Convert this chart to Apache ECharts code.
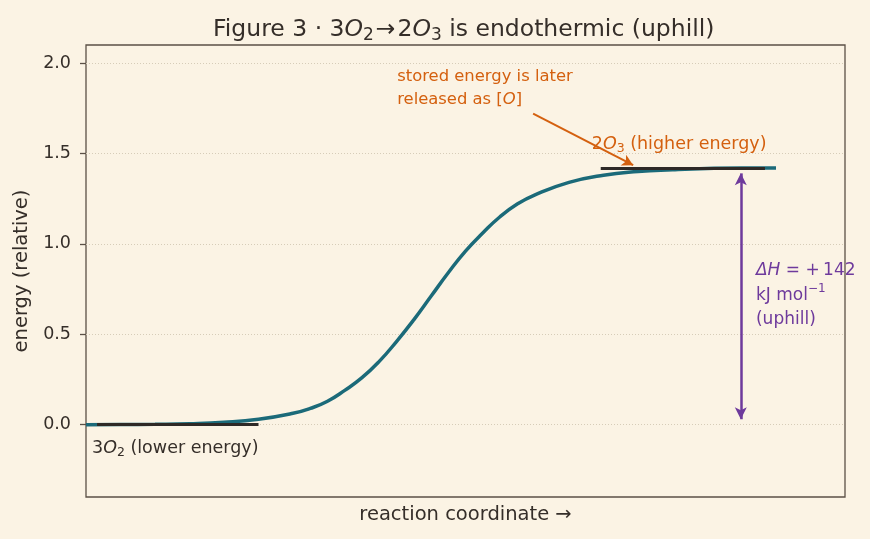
<!DOCTYPE html>
<html>
<head>
<meta charset="utf-8">
<script src="https://cdn.jsdelivr.net/npm/echarts@6/dist/echarts.min.js"></script>
<style>
  html, body { margin: 0; padding: 0; background: #fbf3e4; }
  #chart { width: 870px; height: 539px; }
</style>
</head>
<body>
<div id="chart"></div>
<script>
// reaction coordinate (arbitrary units) and relative energy along the path
const coord = [0, 0.5, 1, 1.5, 2, 2.5, 3, 3.25, 3.5, 3.75, 4, 4.25, 4.5, 4.75, 5, 5.25, 5.5, 5.75, 6, 6.25, 6.5, 7, 7.5, 8, 8.5, 9, 9.5, 10];
const energy = [0.000, 0.001, 0.002, 0.005, 0.013, 0.030, 0.063, 0.09, 0.13, 0.19, 0.26, 0.35, 0.46, 0.58, 0.71, 0.84, 0.96, 1.06, 1.15, 1.22, 1.27, 1.34, 1.38, 1.40, 1.41, 1.417, 1.42, 1.42];
const yTicks = [0, 0.5, 1.0, 1.5, 2.0];

// energy levels: [start, end, energy]
const lowLevel = [0.16, 2.5, 0];
const highLevel = [7.46, 9.84, 1.42];
const deltaH = [9.49, 0.03, 1.39];          // x, bottom, top of the ΔH arrow
const noteArrow = [[6.48, 1.72], [7.93, 1.435]];

const font = "'DejaVu Sans', sans-serif";
const ink = '#352e29';
const orange = '#d4600f';
const purple = '#6e3a9c';

let myChart = echarts.init(document.querySelector('#chart'));

const sub = function (size, color) {
  return { fontSize: size, fontFamily: font, color: color, verticalAlign: 'bottom' };
};

myChart.setOption({
  backgroundColor: '#fbf3e4',
  animation: false,
  title: {
    left: 208,
    top: 10,
    text: 'Figure 3 · 3{i|O}{s|2}{a|→}2{i|O}{s|3} is endothermic (uphill)',
    textStyle: {
      fontFamily: font, fontSize: 23.5, fontWeight: 'normal', color: ink, lineHeight: 29,
      rich: {
        i: { fontFamily: font, fontSize: 23.5, fontStyle: 'italic', color: ink, lineHeight: 29 },
        s: { fontFamily: font, fontSize: 17, color: ink, verticalAlign: 'bottom', lineHeight: 26 },
        a: { fontFamily: font, fontSize: 23.5, color: ink, padding: [0, 2, 0, 2], lineHeight: 29 }
      }
    }
  },
  grid: {
    left: 86, right: 25, top: 45, bottom: 42,
    show: true, borderColor: '#5b5046', borderWidth: 1.3, backgroundColor: 'transparent'
  },
  xAxis: {
    type: 'value', min: 0, max: 11,
    name: 'reaction coordinate →', nameLocation: 'middle', nameGap: 8,
    nameTextStyle: { fontFamily: font, fontSize: 19.5, color: ink },
    axisLine: { show: false }, axisTick: { show: false }, axisLabel: { show: false },
    splitLine: { show: false }
  },
  yAxis: {
    type: 'value', min: -0.4, max: 2.1,
    name: 'energy (relative)', nameLocation: 'middle', nameGap: 54,
    nameTextStyle: { fontFamily: font, fontSize: 19.5, color: ink },
    axisLine: { show: false },
    axisTick: { show: true, length: 6, customValues: yTicks, lineStyle: { color: '#5b5046', width: 1.3 } },
    axisLabel: {
      customValues: yTicks, fontFamily: font, fontSize: 17.5, color: ink, margin: 15,
      formatter: function (v) { return v.toFixed(1); }
    },
    splitLine: { show: true, lineStyle: { color: '#d6ccb8', type: [1, 2], width: 1 } }
  },
  series: [
    {
      name: 'path', type: 'line', smooth: 0.5, symbol: 'none', z: 2,
      data: coord.map(function (x, i) { return [x, energy[i]]; }),
      lineStyle: { color: '#1b6a79', width: 3.5 }
    },
    {
      name: 'levels', type: 'line', data: [], z: 4,
      markLine: {
        silent: true, symbol: 'none', label: { show: false },
        lineStyle: { color: '#2e2926', width: 3, type: 'solid' },
        data: [
          [{ coord: [lowLevel[0], lowLevel[2]] }, { coord: [lowLevel[1], lowLevel[2]] }],
          [{ coord: [highLevel[0], highLevel[2]] }, { coord: [highLevel[1], highLevel[2]] }]
        ]
      }
    },
    {
      name: 'arrows', type: 'line', data: [], z: 5,
      markLine: {
        silent: true, label: { show: false }, precision: 3,
        data: [
          [{ coord: [deltaH[0], deltaH[1]], symbol: 'arrow', symbolSize: [9, 12],
             lineStyle: { color: purple, width: 2.5, type: 'solid' } },
           { coord: [deltaH[0], deltaH[2]], symbol: 'arrow', symbolSize: [9, 12] }],
          [{ coord: noteArrow[0], symbol: 'none',
             lineStyle: { color: orange, width: 2, type: 'solid' } },
           { coord: noteArrow[1], symbol: 'arrow', symbolSize: [9, 11] }]
        ]
      }
    },
    {
      name: 'notes', type: 'scatter', symbolSize: 0, z: 6, silent: true,
      itemStyle: { opacity: 1 },
      label: { show: true, position: [0, 0], align: 'left', verticalAlign: 'top', opacity: 1 },
      data: [
        { value: [4.51, 1.99], label: {
            formatter: 'stored energy is later\nreleased as [{i|O}]',
            fontFamily: font, fontSize: 16.4, color: orange, lineHeight: 23,
            rich: { i: { fontFamily: font, fontSize: 16.4, fontStyle: 'italic', color: orange, lineHeight: 23 } } } },
        { value: [7.33, 1.61], label: {
            formatter: '2{i|O}{s|3} (higher energy)',
            fontFamily: font, fontSize: 17.5, color: orange, lineHeight: 22,
            rich: { i: { fontFamily: font, fontSize: 17.5, fontStyle: 'italic', color: orange, lineHeight: 22 },
                    s: sub(12.5, orange) } } },
        { value: [0.087, -0.072], label: {
            formatter: '3{i|O}{s|2} (lower energy)',
            fontFamily: font, fontSize: 17.5, color: ink, lineHeight: 22,
            rich: { i: { fontFamily: font, fontSize: 17.5, fontStyle: 'italic', color: ink, lineHeight: 22 },
                    s: sub(12.5, ink) } } },
        { value: [9.71, 0.918], label: {
            formatter: '{i|ΔH} = +\u2009142\nkJ mol{p|−1}\n(uphill)',
            fontFamily: font, fontSize: 17, color: purple, lineHeight: 24.5,
            rich: { i: { fontFamily: font, fontSize: 17, fontStyle: 'italic', color: purple, lineHeight: 24.5 },
                    p: { fontFamily: font, fontSize: 12, color: purple, verticalAlign: 'top', lineHeight: 20 } } } }
      ]
    }
  ]
});
</script>
</body>
</html>
